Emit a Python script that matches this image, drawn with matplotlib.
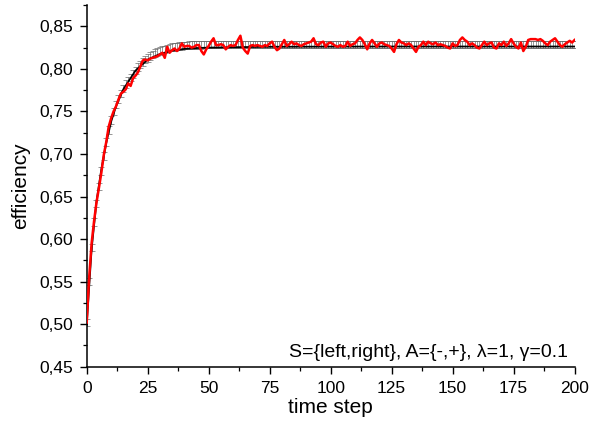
from matplotlib import pyplot as plt
from matplotlib.ticker import FuncFormatter, MultipleLocator, AutoMinorLocator
import numpy as np

plt.rcParams['font.family'] = ['Liberation Sans', 'DejaVu Sans']

# single run (red), one value per time step 0..200
run_eff = [
    0.502, 0.555, 0.595, 0.621, 0.643, 0.660, 0.678, 0.699, 0.714, 0.732,
    0.742, 0.750, 0.756, 0.764, 0.771, 0.773, 0.776, 0.783, 0.780, 0.789,
    0.792, 0.796, 0.803, 0.810, 0.811, 0.810, 0.812, 0.813, 0.814, 0.815,
    0.817, 0.819, 0.813, 0.826, 0.819, 0.822, 0.824, 0.821, 0.824, 0.830,
    0.826, 0.827, 0.827, 0.825, 0.826, 0.828, 0.828, 0.821, 0.817, 0.823,
    0.827, 0.832, 0.836, 0.828, 0.828, 0.829, 0.828, 0.823, 0.826, 0.828,
    0.827, 0.828, 0.834, 0.839, 0.825, 0.821, 0.818, 0.827, 0.828, 0.827,
    0.828, 0.827, 0.826, 0.828, 0.827, 0.830, 0.832, 0.826, 0.822, 0.824,
    0.829, 0.834, 0.827, 0.829, 0.832, 0.829, 0.830, 0.828, 0.827, 0.829,
    0.830, 0.831, 0.832, 0.836, 0.829, 0.828, 0.831, 0.832, 0.826, 0.830,
    0.831, 0.829, 0.827, 0.826, 0.828, 0.826, 0.827, 0.832, 0.827, 0.829,
    0.830, 0.834, 0.837, 0.834, 0.829, 0.823, 0.830, 0.834, 0.830, 0.826,
    0.830, 0.831, 0.829, 0.828, 0.827, 0.824, 0.820, 0.829, 0.834, 0.831,
    0.830, 0.828, 0.830, 0.828, 0.824, 0.820, 0.826, 0.828, 0.832, 0.828,
    0.832, 0.830, 0.829, 0.831, 0.828, 0.829, 0.828, 0.827, 0.825, 0.824,
    0.830, 0.827, 0.828, 0.834, 0.837, 0.834, 0.832, 0.828, 0.830, 0.828,
    0.825, 0.824, 0.828, 0.832, 0.828, 0.830, 0.831, 0.825, 0.824, 0.830,
    0.828, 0.832, 0.827, 0.830, 0.835, 0.830, 0.826, 0.824, 0.831, 0.821,
    0.826, 0.834, 0.835, 0.835, 0.835, 0.834, 0.835, 0.833, 0.830, 0.828,
    0.832, 0.834, 0.836, 0.832, 0.828, 0.826, 0.829, 0.831, 0.833, 0.831,
    0.834,
]

# averaged efficiency (error bar centres) and its spread
mean_eff = [
    0.502, 0.550, 0.590, 0.620, 0.642, 0.662, 0.680, 0.698, 0.714, 0.728,
    0.740, 0.750, 0.758, 0.765, 0.771, 0.777, 0.782, 0.786, 0.790, 0.794,
    0.798, 0.802, 0.805, 0.808, 0.811, 0.813, 0.815, 0.817, 0.819, 0.820,
    0.821, 0.822, 0.823, 0.824, 0.825, 0.8255, 0.826, 0.8265, 0.827, 0.8270,
    0.8275, 0.8275, 0.828, 0.828, 0.828, 0.828, 0.8283, 0.8283, 0.8285, 0.8285,
] + [0.8285] * 151
err_eff = 0.0045

# fitted curve (black)
fit_t = [0, 2, 4, 6, 8, 10, 12, 15, 20, 25, 30, 35, 40, 45, 50, 60, 75, 100, 125, 150, 175, 200]
fit_eff = [0.500, 0.588, 0.644, 0.682, 0.713, 0.738, 0.756, 0.776, 0.798, 0.811,
           0.8175, 0.8215, 0.8235, 0.8245, 0.825, 0.8255, 0.826, 0.8262, 0.8263, 0.8263, 0.8263, 0.8263]

t = np.arange(len(run_eff))

fig = plt.figure(figsize=(5.96, 4.24), dpi=100)
ax = fig.add_axes([0.1455, 0.135, 0.8185, 0.853])

ax.errorbar(t, mean_eff, yerr=err_eff, fmt='none', ecolor='#666666',
            elinewidth=0.6, capsize=2.0, capthick=0.6, alpha=0.8, zorder=1)
ax.plot(fit_t, fit_eff, color='black', lw=1.3, zorder=2)
ax.plot(t, run_eff, color='#ff0000', lw=1.8, zorder=3)

ax.set_xlim(0, 200)
ax.set_ylim(0.45, 0.875)
ax.xaxis.set_major_locator(MultipleLocator(25))
ax.xaxis.set_minor_locator(AutoMinorLocator(2))
ax.yaxis.set_major_locator(MultipleLocator(0.05))
ax.yaxis.set_minor_locator(AutoMinorLocator(2))
ax.yaxis.set_major_formatter(FuncFormatter(lambda v, p: f"{v:.2f}".replace('.', ',')))

for side in ['top', 'right']:
    ax.spines[side].set_visible(False)
for side in ['left', 'bottom']:
    ax.spines[side].set_linewidth(1.1)
ax.tick_params(which='major', direction='out', length=5, width=1.0, labelsize=12.5, pad=5)
ax.tick_params(which='minor', direction='out', length=3, width=0.9)

ax.set_xlabel("time step", fontsize=15, labelpad=2)
ax.set_ylabel("efficiency", fontsize=15, labelpad=6)

ax.text(0.986, 0.027, "S={left,right}, A={-,+}, λ=1, γ=0.1", transform=ax.transAxes,
        ha='right', va='baseline', fontsize=14)

plt.savefig("out.png", dpi=100)
